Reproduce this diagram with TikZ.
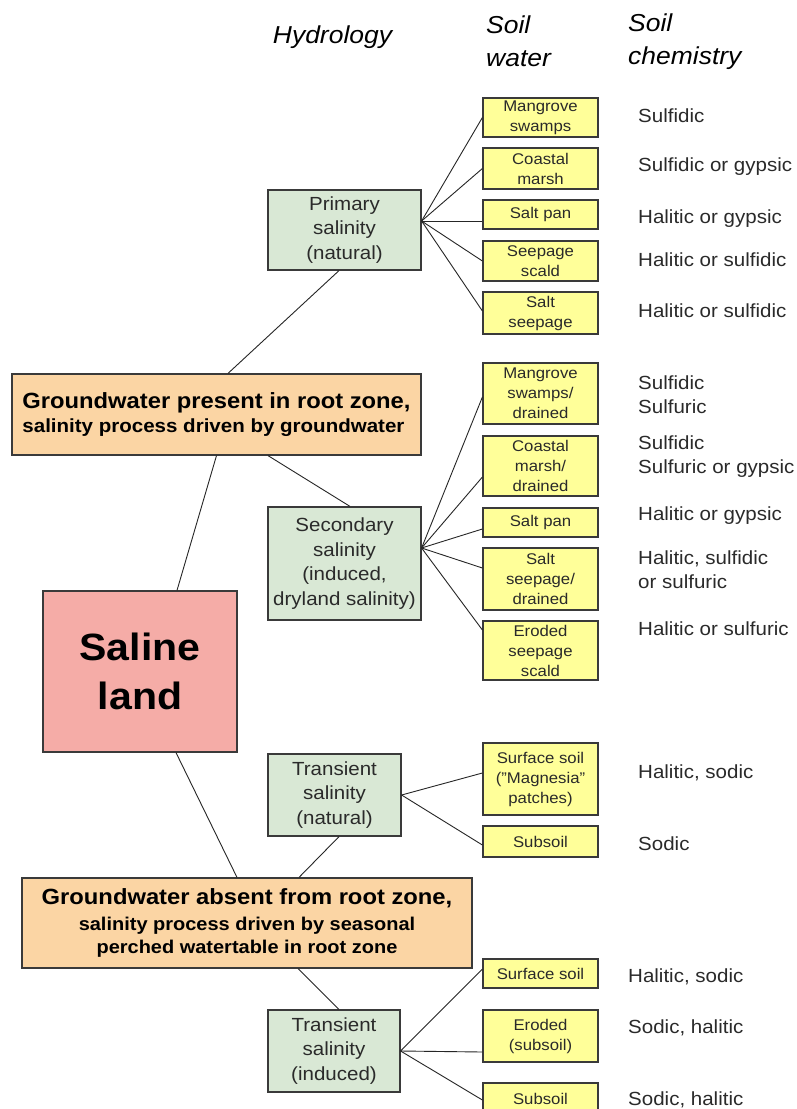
\documentclass[tikz,border=0pt]{standalone}
\usepackage{fontspec}
\setmainfont{Liberation Sans}[FakeStretch=1.08]

\definecolor{boxline}{HTML}{3A3A3A}
\definecolor{waterfill}{HTML}{FFFF99}
\definecolor{hydrofill}{HTML}{D9E8D5}
\definecolor{groundfill}{HTML}{FBD5A4}
\definecolor{salinefill}{HTML}{F5ACA7}
\definecolor{textgray}{HTML}{2A2A2A}

\tikzset{
  box/.style={draw=boxline, line width=1.2pt, inner sep=0pt, align=center, text=textgray},
  waterbox/.style={box, fill=waterfill, minimum width=115pt, font=\fontsize{15.5}{20}\selectfont},
  hydrobox/.style={box, fill=hydrofill, font=\fontsize{19}{24.5}\selectfont},
  groundbox/.style={box, fill=groundfill, text=black, font=\bfseries\fontsize{18.5}{23.5}\selectfont},
  chemtext/.style={anchor=west, align=left, inner sep=0pt, text=textgray, font=\fontsize{19}{24}\selectfont},
  headtext/.style={inner sep=0pt, align=left, font=\itshape\fontsize{24.5}{33}\selectfont},
  link/.style={draw=black!85, line width=0.9pt}
}

\begin{document}
\begin{tikzpicture}[x=1pt, y=-1pt]
    % Page frame
    \path[use as bounding box, fill=white] (0,0) rectangle (796,1109);

    % Column headers
    \node[headtext] (hydroHead) at (332.5,37) {Hydrology};
    \node[headtext, anchor=west] (waterHead) at (486,41.5) {Soil\\water};
    \node[headtext, anchor=west] (chemHead) at (628,41.5) {Soil\\chemistry};

    % Main box
    \node[box, fill=salinefill, text=black, minimum width=194pt, minimum height=161pt,
          font=\bfseries\fontsize{38}{49}\selectfont] (saline) at (140,671.5) {Saline\\land};

    % Groundwater boxes
    \node[groundbox, minimum width=409pt, minimum height=81pt, align=left] (gwin) at (216.5,414.5)
        {{\fontsize{22}{26}\selectfont Groundwater present in root zone,}\\[1pt]{\fontsize{19}{23.5}\selectfont salinity process driven by groundwater}};
    \node[groundbox, minimum width=450pt, minimum height=90pt] (gwout) at (247,923)
        {{\fontsize{22}{26}\selectfont Groundwater absent from root zone,}\\[2pt]salinity process driven by seasonal\\perched watertable in root zone};

    % Hydrology boxes
    \node[hydrobox, minimum width=153pt, minimum height=80pt] (primary) at (344.5,230) {Primary\\salinity\\(natural)};
    \node[hydrobox, minimum width=153pt, minimum height=113pt] (secondary) at (344.5,563.5) {Secondary\\salinity\\(induced,\\dryland salinity)};
    \node[hydrobox, minimum width=133pt, minimum height=82pt] (transnat) at (334.5,795) {Transient\\salinity\\(natural)};
    \node[hydrobox, minimum width=132pt, minimum height=82pt] (transind) at (334,1051) {Transient\\salinity\\(induced)};

    % Soil water boxes
    \node[waterbox, minimum height=39pt] (mangroveA) at (540.5,117.5) {Mangrove\\swamps};
    \node[waterbox, minimum height=41pt] (coastalA) at (540.5,168.5) {Coastal\\marsh};
    \node[waterbox, minimum height=29pt] (saltpanA) at (540.5,214.5) {Salt pan};
    \node[waterbox, minimum height=40pt] (scaldA) at (540.5,261) {Seepage\\scald};
    \node[waterbox, minimum height=42pt] (seepA) at (540.5,313) {Salt\\seepage};

    \node[waterbox, minimum height=61pt] (mangroveB) at (540.5,393.5) {Mangrove\\swamps/\\drained};
    \node[waterbox, minimum height=60pt] (coastalB) at (540.5,466) {Coastal\\marsh/\\drained};
    \node[waterbox, minimum height=29pt] (saltpanB) at (540.5,522.5) {Salt pan};
    \node[waterbox, minimum height=62pt] (seepB) at (540.5,579) {Salt\\seepage/\\drained};
    \node[waterbox, minimum height=59pt] (erodedB) at (540.5,650.5) {Eroded\\seepage\\scald};

    \node[waterbox, minimum height=72pt] (surfaceC) at (540.5,779) {Surface soil\\(\symbol{34}Magnesia\symbol{34}\\patches)};
    \node[waterbox, minimum height=31pt] (subsoilC) at (540.5,841.5) {Subsoil};

    \node[waterbox, minimum height=29pt] (surfaceD) at (540.5,973.5) {Surface soil};
    \node[waterbox, minimum height=52pt] (erodedD) at (540.5,1036) {Eroded\\(subsoil)};
    \node[waterbox, minimum height=31pt] (subsoilD) at (540.5,1098.5) {Subsoil};

    % Soil chemistry labels
    \node[chemtext] (chem1) at (638,116) {Sulfidic};
    \node[chemtext] (chem2) at (638,167) {Sulfidic or gypsic};
    \node[chemtext] (chem3) at (638,219) {Halitic or gypsic};
    \node[chemtext] (chem4) at (638,260) {Halitic or sulfidic};
    \node[chemtext] (chem5) at (638,311) {Halitic or sulfidic};
    \node[chemtext] (chem6) at (638,395) {Sulfidic\\Sulfuric};
    \node[chemtext] (chem7) at (638,457) {Sulfidic\\Sulfuric or gypsic};
    \node[chemtext] (chem8) at (638,516) {Halitic or gypsic};
    \node[chemtext] (chem9) at (638,569.5) {Halitic, sulfidic\\or sulfuric};
    \node[chemtext] (chem10) at (638,629) {Halitic or sulfuric};
    \node[chemtext] (chem11) at (638,773) {Halitic, sodic};
    \node[chemtext] (chem12) at (638,844) {Sodic};
    \node[chemtext] (chem13) at (628,977) {Halitic, sodic};
    \node[chemtext] (chem14) at (628,1028) {Sodic, halitic};
    \node[chemtext] (chem15) at (628,1100) {Sodic, halitic};

    % Draw the tree trunk
    \draw[link] ([xshift=-5.5]primary.south) -- ([xshift=11.5]gwin.north);
    \draw[link] (gwin.south) -- ([xshift=37]saline.north);
    \draw[link] ([xshift=51.5]gwin.south) -- ([xshift=5.5]secondary.north);
    \draw[link] ([xshift=36]saline.south) -- ([xshift=-10]gwout.north);
    \draw[link] ([xshift=4.5]transnat.south) -- ([xshift=52]gwout.north);
    \draw[link] ([xshift=51]gwout.south) -- ([xshift=5]transind.north);

    % Draw the fans
    \foreach \b/\s in {mangroveA/0, coastalA/0, saltpanA/-6.5, scaldA/0, seepA/2}
        \draw[link] ([yshift=9]primary.east) -- ([yshift=\s]\b.west);
    \foreach \b/\s in {mangroveB/-3.5, coastalB/-11, saltpanB/-6.5, seepB/11, erodedB/20.5}
        \draw[link] ([yshift=15.5]secondary.east) -- ([yshift=\s]\b.west);
    \foreach \b/\s in {surfaceC/6, subsoilC/-3.5}
        \draw[link] (transnat.east) -- ([yshift=\s]\b.west);
    \foreach \b/\s in {surfaceD/4.5, erodedD/-16, subsoilD/-1.5}
        \draw[link] (transind.east) -- ([yshift=\s]\b.west);
\end{tikzpicture}
\end{document}
